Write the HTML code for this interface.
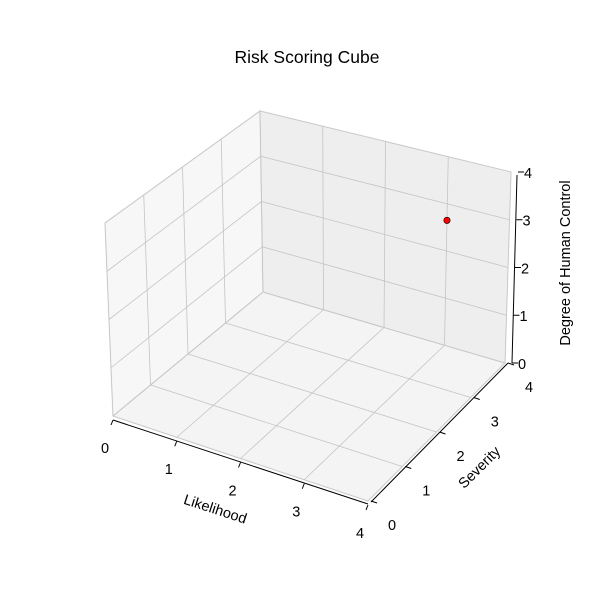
<!DOCTYPE html>
<html><head><meta charset="utf-8"><style>
body{margin:0;background:#fff}
svg text{font-family:"Liberation Sans","DejaVu Sans",sans-serif;font-size:14.5px;fill:#000}
</style></head><body>
<svg id="c" width="600" height="600" viewBox="0 0 600 600">
<text x="307" y="63" text-anchor="middle" style="font-size:17.5px">Risk Scoring Cube</text>
</svg>
<script>
const xTicks = [0,1,2,3,4];
const yTicks = [0,1,2,3,4];
const zTicks = [0,1,2,3,4];
const pointX = [3];
const pointY = [4];
const pointZ = [2.65];
const xLabel = "Likelihood", yLabel = "Severity", zLabel = "Degree of Human Control";

const svg = document.getElementById('c');
const NS = 'http://www.w3.org/2000/svg';
const P000=[113,416],P400=[368,501],P440=[505,363],P040=[263,292];
const P004=[105,223],P044=[260,111],P444=[511,172],P404=[366,307];
function lerp(a,b,t){return [a[0]+(b[0]-a[0])*t,a[1]+(b[1]-a[1])*t];}
function proj(x,y,z){
  const u=x/4,v=y/4,w=z/4;
  const b=lerp(lerp(P000,P400,u),lerp(P040,P440,u),v);
  const t=lerp(lerp(P004,P404,u),lerp(P044,P444,u),v);
  return lerp(b,t,w);
}
function el(tag,attrs,parent){const e=document.createElementNS(NS,tag);for(const k in attrs)e.setAttribute(k,attrs[k]);(parent||svg).appendChild(e);return e;}
function poly(pts,fill,name){
  const e=el('polygon',{points:pts.map(p=>p.join(',')).join(' '),fill:fill,stroke:'#ededed','stroke-width':1.5});
  
  
}
function line(a,b,stroke,w,name){
  const e=el('line',{x1:a[0],y1:a[1],x2:b[0],y2:b[1],stroke:stroke,'stroke-width':w});
  
  
}
poly([proj(0,0,0),proj(4,0,0),proj(4,4,0),proj(0,4,0)],'#f4f4f4','floor-pane');
poly([proj(0,0,0),proj(0,4,0),proj(0,4,4),proj(0,0,4)],'#f7f7f7','left-pane');
poly([proj(0,4,0),proj(4,4,0),proj(4,4,4),proj(0,4,4)],'#eeeeee','back-pane');
const G='#c4c4c4';
xTicks.forEach(t=>{line(proj(t,0,0),proj(t,4,0),G,0.8,'x-gridline');line(proj(t,4,0),proj(t,4,4),G,0.8,'x-gridline');});
yTicks.forEach(t=>{line(proj(0,t,0),proj(4,t,0),G,0.8,'y-gridline');line(proj(0,t,0),proj(0,t,4),G,0.8,'y-gridline');});
zTicks.forEach(t=>{line(proj(0,0,t),proj(0,4,t),G,0.8,'z-gridline');line(proj(0,4,t),proj(4,4,t),G,0.8,'z-gridline');});
function off(p,dx,dy){return [p[0]+dx,p[1]+dy];}
line(off(proj(0,0,0),0,4),off(proj(4,0,0),0,3),'#000',1,'x-axis-line');
line(off(proj(4,0,0),3,1),off(proj(4,4,0),3,0),'#000',1,'y-axis-line');
line(off(proj(4,4,0),7,0),off(proj(4,4,4),6,3),'#000',1,'z-axis-line');
function label(txt,p,name,extra){
  const e=el('text',Object.assign({x:p[0],y:p[1],'text-anchor':'middle','dominant-baseline':'middle'},extra||{}));
  e.textContent=txt;
  
  
}
xTicks.forEach(t=>{const p=off(proj(t,0,0),0,4);line(p,[p[0]-2,p[1]+5],'#000',1,'x-tick');label(String(t),[p[0]-8,p[1]+29],'x-tick-label');});
yTicks.forEach(t=>{const p=off(proj(4,t,0),3,0);line(p,[p[0]+6,p[1]+2],'#000',1,'y-tick');label(String(t),[p[0]+21,p[1]+25],'y-tick-label');});
zTicks.forEach(t=>{const p=off(proj(4,4,t),7,0);line(p,[p[0]+6,p[1]],'#000',1,'z-tick');label(String(t),[p[0]+10,p[1]+2],'z-tick-label');});
label(xLabel,[215,510],'x-axis-title',{transform:'rotate(18 215 510)'});
label(yLabel,[480,468],'y-axis-title',{transform:'rotate(-45 480 468)'});
label(zLabel,[566,263],'z-axis-title',{transform:'rotate(-90 566 263)'});
pointX.forEach((x,i)=>{
  const p=proj(x,pointY[i],pointZ[i]);
  const c=el('circle',{cx:p[0],cy:p[1],r:3.2,fill:'#ff0000',stroke:'#000','stroke-width':0.6});
  
  
});
</script>
</body></html>
